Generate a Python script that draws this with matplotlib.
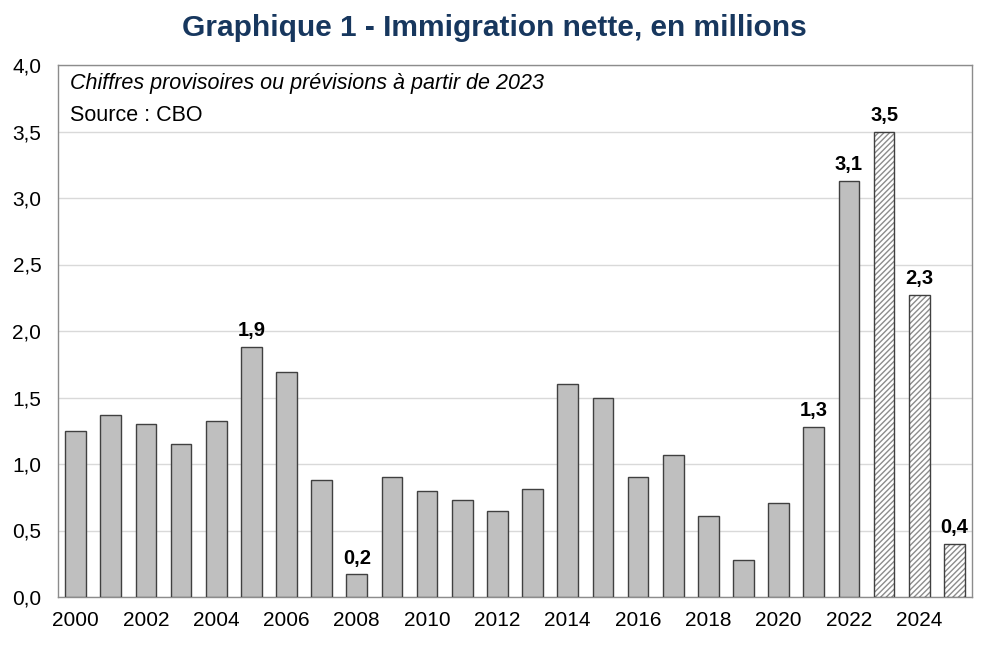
import matplotlib.pyplot as plt
import numpy as np

plt.rcParams['font.family'] = ['Liberation Sans', 'DejaVu Sans']

years = list(range(2000, 2026))
values = [1.25, 1.37, 1.30, 1.15, 1.32, 1.88, 1.69, 0.88, 0.17, 0.90, 0.80, 0.73, 0.65,
          0.81, 1.60, 1.50, 0.90, 1.07, 0.61, 0.28, 0.71, 1.28, 3.13, 3.50, 2.27, 0.40]
labelled = [2005, 2008, 2021, 2022, 2023, 2024, 2025]
first_forecast = 2023

fig = plt.figure(figsize=(9.89, 6.45), dpi=100)
ax = fig.add_axes([58 / 989, 1 - 597 / 645, (972 - 58) / 989, (597 - 65) / 645])

x = np.arange(len(years))
w = 0.59
for i, (yr, v) in enumerate(zip(years, values)):
    if yr < first_forecast:
        ax.bar(x[i], v, w, color='#bfbfbf', edgecolor='#404040', linewidth=1.0, zorder=3)
    else:
        ax.bar(x[i], v, w, color='white', edgecolor='#8c8c8c', hatch='//////', linewidth=0, zorder=3)
        ax.bar(x[i], v, w, fill=False, edgecolor='#404040', linewidth=1.0, zorder=4)
    if yr in labelled:
        ax.text(x[i], v + 0.05, f"{v:.1f}".replace('.', ','), ha='center', va='bottom',
                fontsize=14.5, fontweight='bold', zorder=5)

ax.set_xlim(-0.5, len(years) - 0.5)
ax.set_ylim(0, 4.0)
yt = np.arange(0, 4.01, 0.5)
ax.set_yticks(yt)
ax.set_yticklabels([f"{t:.1f}".replace('.', ',') for t in yt], fontsize=15)
ax.set_xticks(x[::2])
ax.set_xticklabels([str(y) for y in years[::2]], fontsize=15)
ax.tick_params(axis='y', length=0, pad=12)
ax.tick_params(axis='x', length=0, pad=10)
ax.grid(axis='y', color='#d9d9d9', linewidth=1, zorder=0)
for s in ax.spines.values():
    s.set_color('#8c8c8c')
    s.set_linewidth(1)

ax.text(0.013, 0.965, "Chiffres provisoires ou prévisions à partir de 2023", transform=ax.transAxes,
        fontsize=15.5, style='italic', va='center', ha='left')
ax.text(0.013, 0.905, "Source : CBO", transform=ax.transAxes,
        fontsize=15.5, va='center', ha='left')

fig.text(0.5, 1 - 28 / 645, "Graphique 1 - Immigration nette, en millions", ha='center', va='center',
         fontsize=21.5, fontweight='bold', color='#17375e')

fig.savefig('out.png', dpi=100)
